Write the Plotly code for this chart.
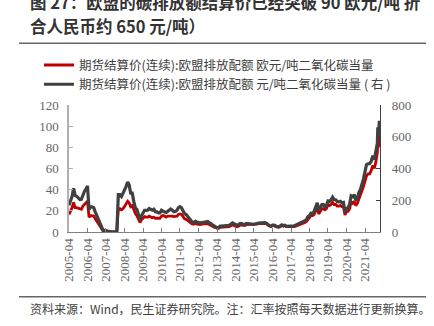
import pandas as pd
import plotly.graph_objects as go

# ---------------- data ----------------
monthly_dates = pd.date_range("2005-04-01", "2021-11-01", freq="MS").strftime("%Y-%m-%d").tolist()
end_dates = ["2021-12-01", "2021-12-10", "2021-12-22", "2022-01-10", "2022-01-20"]
dates = monthly_dates + end_dates

eur_price = [
    # 2005 Apr-Dec
    16.5, 19, 23, 28, 23, 23, 22.5, 21.5, 21.5,
    # 2006
    24.5, 26.5, 27.5, 29, 14, 15.5, 15.5, 15, 12.5, 10.5, 8.5, 6.5,
    # 2007
    3.5, 1.2, 1.0, 0.7, 0.3, 0.15, 0.1, 0.1, 0.05, 0.05, 0.04, 22,
    # 2008
    22, 21, 22, 24, 26.5, 29, 27.5, 24, 25, 21, 17.5, 15.5,
    # 2009
    11.5, 9, 11.5, 13.5, 14.5, 14, 14, 15, 14, 13.5, 14, 13,
    # 2010
    13, 12.8, 13, 15, 15.5, 15, 14, 15, 15.2, 15.5, 15, 14.5,
    # 2011
    14.5, 15, 16.5, 17, 16.5, 14, 12.5, 12, 11, 10, 9, 7.5,
    # 2012
    7.5, 8, 7.5, 7, 7, 7.5, 7.5, 8, 8, 8, 7, 6.5,
    # 2013
    5.5, 4.5, 4.5, 3.5, 3.5, 4.5, 4.5, 4.5, 5, 5, 4.5, 5,
    # 2014
    6, 6.8, 6.2, 5.5, 5, 5.5, 6.5, 6.5, 6, 6, 7, 7,
    # 2015
    7, 7, 7, 7.3, 7.5, 7.5, 8, 8, 8.2, 8.5, 8.5, 8,
    # 2016
    6.5, 5.5, 5, 6, 6, 5, 4.5, 4.5, 5, 6, 5.5, 6,
    # 2017
    5, 5, 5, 4.8, 4.5, 5, 5.5, 6, 6.8, 7.5, 7.5, 8,
    # 2018
    9, 10, 12, 13.5, 15.5, 15.5, 16.5, 20, 23, 17, 19, 22,
    # 2019
    22, 21, 22, 26, 25, 26, 28, 26, 26, 24.5, 24.5, 25,
    # 2020
    24, 24, 16, 19.5, 19.5, 22, 28.5, 27, 29, 25, 27, 31,
    # 2021 Jan-Nov
    34, 38, 43, 48, 53, 55, 55, 58, 63, 60, 66,
    # end points
    75, 88, 80, 90, 88,
]

cny_price = [
    # 2005 Apr-Dec
    168, 190, 225, 275, 230, 225, 216, 204, 206,
    # 2006
    238, 257, 270, 290, 143, 158, 158, 153, 127, 106, 87, 67,
    # 2007
    36, 12, 10, 7, 3, 1.5, 1, 1, 0.5, 0.5, 0.4, 235,
    # 2008
    235, 223, 242, 264, 286, 315, 297, 245, 245, 193, 152, 143,
    # 2009
    104, 78, 102, 122, 136, 136, 137, 148, 140, 137, 143, 128,
    # 2010
    127, 120, 120, 137, 131, 126, 123, 130, 137, 145, 138, 127,
    # 2011
    129, 137, 153, 160, 153, 130, 115, 110, 97, 88, 78, 62,
    # 2012
    61, 67, 63, 58, 56, 60, 58, 63, 65, 66, 57, 54,
    # 2013
    45, 37, 36, 28, 28, 37, 37, 37, 41, 41, 37, 42,
    # 2014
    50, 57, 53, 47, 43, 46, 54, 53, 47, 46, 54, 53,
    # 2015
    49, 49, 47, 48, 52, 52, 54, 57, 58, 61, 59, 56,
    # 2016
    46, 40, 37, 44, 44, 37, 33, 33, 37, 45, 40, 43,
    # 2017
    36, 36, 37, 35, 34, 38, 43, 47, 53, 58, 58, 62,
    # 2018
    71, 79, 97, 104, 119, 118, 129, 158, 184, 135, 150, 173,
    # 2019
    173, 159, 167, 196, 193, 203, 220, 204, 203, 192, 190, 193,
    # 2020
    184, 186, 125, 150, 151, 176, 228, 222, 235, 199, 210, 249,
    # 2021 Jan-Nov
    268, 300, 335, 380, 425, 430, 430, 445, 480, 455, 500,
    # end points
    560, 660, 600, 700, 665,
]

series_names = [
    "期货结算价(连续):欧盟排放配额 欧元/吨二氧化碳当量",
    "期货结算价(连续):欧盟排放配额 元/吨二氧化碳当量 ( 右 )",
]
title_lines = [
    "图 27：欧盟的碳排放额结算价已经突破 90 欧元/吨 折",
    "合人民币约 650 元/吨）",
]
source_text = "资料来源：Wind，民生证券研究院。注：汇率按照每天数据进行更新换算。"

left_ticks = [0, 20, 40, 60, 80, 100, 120]
right_ticks = [0, 200, 400, 600, 800]

# ---------------- figure ----------------
CJK = "Noto Sans CJK SC"
SERIF = "Liberation Serif"

fig = go.Figure()
fig.add_trace(go.Scatter(
    x=dates, y=eur_price, name=series_names[0], mode="lines",
    line=dict(color="#C00000", width=2.8), yaxis="y",
))
fig.add_trace(go.Scatter(
    x=dates, y=cny_price, name=series_names[1], mode="lines",
    line=dict(color="#404040", width=3.2), yaxis="y2",
))

fig.update_layout(
    width=434, height=326,
    margin=dict(l=69, r=54, t=105, b=94),
    paper_bgcolor="white", plot_bgcolor="white",
    showlegend=True,
    legend=dict(
        x=-0.0965, y=1.43, xanchor="left", yanchor="top",
        font=dict(family=CJK, size=12.5, color="#404040"),
        bgcolor="rgba(0,0,0,0)", tracegroupgap=0,
        itemwidth=30,
    ),
    xaxis=dict(
        type="date",
        range=["2005-04-01", "2022-01-22"],
        tick0="2005-04-01", dtick="M12", tickformat="%Y-%m",
        tickangle=-90,
        ticks="inside", ticklen=4, tickcolor="#808080",
        showline=True, linecolor="#808080", linewidth=1.2,
        showgrid=False, zeroline=False,
        tickfont=dict(family=SERIF, size=13, color="#666666"),
    ),
    yaxis=dict(
        range=[0, 120], tickvals=left_ticks,
        ticks="inside", ticklen=4, tickcolor="#b0b0b0",
        showline=True, linecolor="#b0b0b0", linewidth=1.5,
        showgrid=False, zeroline=False,
        tickfont=dict(family=SERIF, size=13, color="#666666"),
        ticklabelstandoff=6,
    ),
    yaxis2=dict(
        range=[0, 800], tickvals=right_ticks,
        overlaying="y", side="right",
        ticks="inside", ticklen=4, tickcolor="#404040",
        showline=True, linecolor="#404040", linewidth=1.2,
        showgrid=False, zeroline=False,
        tickfont=dict(family=SERIF, size=13, color="#666666"),
        ticklabelstandoff=8,
    ),
)

# title lines
fig.add_annotation(text="<b>" + title_lines[0] + "</b>", xref="paper", yref="paper",
                   x=-0.1318, y=1.811, xanchor="left", yanchor="middle", showarrow=False,
                   font=dict(family=CJK, size=16.5, color="#333333"))
fig.add_annotation(text="<b>" + title_lines[1] + "</b>", xref="paper", yref="paper",
                   x=-0.1318, y=1.622, xanchor="left", yanchor="middle", showarrow=False,
                   font=dict(family=CJK, size=16.5, color="#333333"))
# source
fig.add_annotation(text=source_text, xref="paper", yref="paper",
                   x=-0.1318, y=-0.606, xanchor="left", yanchor="middle", showarrow=False,
                   font=dict(family=CJK, size=12, color="#404040"))

# separator rules
fig.add_shape(type="line", xref="paper", yref="paper", x0=-0.1608, x1=1.148,
              y0=1.486, y1=1.486, line=dict(color="#666666", width=1.5))
fig.add_shape(type="line", xref="paper", yref="paper", x0=-0.1608, x1=1.148,
              y0=-0.509, y1=-0.509, line=dict(color="#666666", width=1.5))

fig.write_html("out.html")
